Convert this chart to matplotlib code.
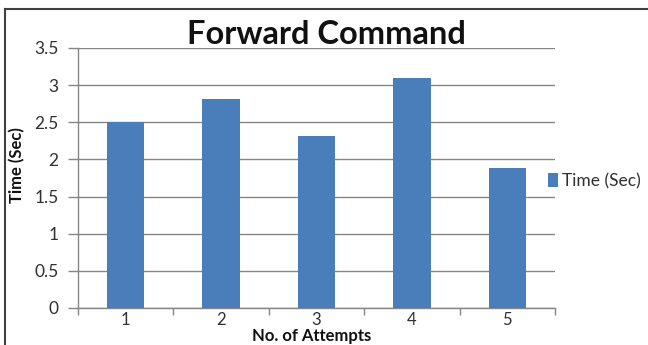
import matplotlib.pyplot as plt
from matplotlib.lines import Line2D

# attempts and measured time for the forward command
attempts = ['1', '2', '3', '4', '5']
times = [2.5, 2.82, 2.31, 3.09, 1.89]
yticks = [0, 0.5, 1, 1.5, 2, 2.5, 3, 3.5]

bar_col = '#4a7ebb'
grid_col = '#868686'
W, H = 648, 345

plt.rcParams['font.family'] = ['Lato', 'DejaVu Sans']

fig = plt.figure(figsize=(W / 100, H / 100), dpi=100)
ax = fig.add_axes([78 / W, 1 - 308 / H, (555 - 78) / W, (308 - 48) / H])

x = range(len(attempts))
ax.bar(x, times, width=0.39, color=bar_col, zorder=3, label='Time (Sec)')

ax.set_xlim(-0.5, len(attempts) - 0.5)
ax.set_ylim(0, 3.5)
ax.set_yticks(yticks)
ax.set_yticklabels(['0', '0.5', '1', '1.5', '2', '2.5', '3', '3.5'])
ax.yaxis.grid(True, color=grid_col, linewidth=1.0, zorder=0)

# category ticks sit between the bars, labels centred under them
ax.set_xticks([i + 0.5 for i in range(-1, len(attempts))])
ax.set_xticklabels([])
ax.set_xticks(list(x), minor=True)
ax.set_xticklabels(attempts, minor=True)
ax.tick_params(axis='x', which='major', direction='out', length=5,
               color=grid_col, width=1)
ax.tick_params(axis='x', which='minor', length=0, pad=3,
               labelsize=12, labelcolor='#303030')
ax.tick_params(axis='y', direction='out', length=7, color=grid_col, width=1,
               labelsize=12.5, labelcolor='#303030', pad=7)

for s in ['top', 'right']:
    ax.spines[s].set_visible(False)
for s in ['left', 'bottom']:
    ax.spines[s].set_color(grid_col)
    ax.spines[s].set_linewidth(1)

fig.text(326 / W, 1 - 34 / H, 'Forward Command', ha='center', va='center',
         fontsize=23.5, fontweight='bold', color='#111111')
fig.text(17 / W, 1 - 165 / H, 'Time (Sec)', rotation=90, ha='center',
         va='center', fontsize=12, fontweight='bold', color='#111111')
fig.text(312 / W, 0.5 / H, 'No. of Attempts', ha='center', va='bottom',
         fontsize=12, fontweight='bold', color='#111111')

fig.legend(loc='center left', bbox_to_anchor=(548 / W, 1 - 181 / H),
           frameon=False, handlelength=0.55, handleheight=0.85,
           handletextpad=0.25, fontsize=12.5, labelcolor='#303030',
           borderaxespad=0, borderpad=0)

# outer frame: left and top edges only
fig.add_artist(Line2D([5 / W, 5 / W], [0, 1 - 9 / H], transform=fig.transFigure,
                      color='#404040', linewidth=1.5))
fig.add_artist(Line2D([5 / W, 1], [1 - 9 / H, 1 - 9 / H],
                      transform=fig.transFigure, color='#404040', linewidth=1.5))

fig.savefig('out.png', dpi=100)
